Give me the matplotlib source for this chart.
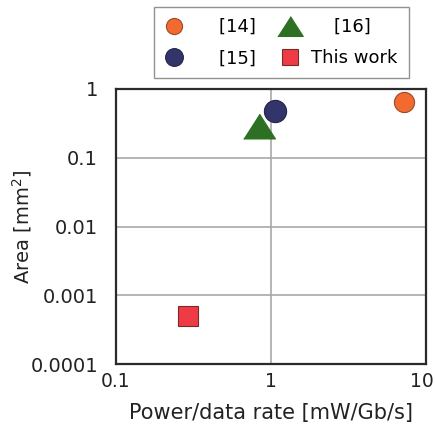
import matplotlib
matplotlib.use("Agg")
import matplotlib.pyplot as plt
import matplotlib.transforms as mtransforms
from matplotlib.ticker import NullLocator, FixedLocator, FixedFormatter

# Data
labels = ["[14]", "[15]", "[16]", "This work"]
power = [7.2, 1.06, 0.84, 0.29]      # mW/Gb/s
area = [0.65, 0.48, 0.29, 0.0005]    # mm^2
colors = ["#F26A30", "#33356A", "#2E7023", "#EE3B45"]
edges = ["#9A4A25", "#22244A", "#2E7023", "#7A2A2A"]

xticks = [0.1, 1, 10]
xticklabels = ["0.1", "1", "10"]
yticks = [0.0001, 0.001, 0.01, 0.1, 1]
yticklabels = ["0.0001", "0.001", "0.01", "0.1", "1"]

plt.rcParams["font.family"] = ["DejaVu Sans"]

W, H = 436, 425
fig = plt.figure(figsize=(W / 100, H / 100), dpi=100)
ax = fig.add_axes([116 / W, 1 - 364 / H, (426 - 116) / W, (364 - 89) / H])

tri = [(-1, -0.78), (1, -0.78), (0, 0.78)]
markers = ["o", "o", tri, "s"]
msizes = [14.5, 16, 23, 14.5]

handles = []
for x, y, lab, c, ec, m, ms in zip(power, area, labels, colors, edges, markers, msizes):
    h, = ax.plot([x], [y], linestyle="none", marker=m, markersize=ms,
                 markerfacecolor=c, markeredgecolor=ec, markeredgewidth=0.8,
                 label=lab, zorder=3)
    handles.append(h)

ax.set_xscale("log")
ax.set_yscale("log")
ax.set_xlim(0.1, 10)
ax.set_ylim(0.0001, 1)

ax.xaxis.set_major_locator(FixedLocator(xticks))
ax.xaxis.set_major_formatter(FixedFormatter(xticklabels))
ax.yaxis.set_major_locator(FixedLocator(yticks))
ax.yaxis.set_major_formatter(FixedFormatter(yticklabels))
ax.xaxis.set_minor_locator(NullLocator())
ax.yaxis.set_minor_locator(NullLocator())

ax.grid(True, which="major", color="#A8A8A8", linewidth=1.2, zorder=0)
ax.set_axisbelow(True)
ax.tick_params(axis="both", length=0, labelsize=14, colors="#222222")
ax.tick_params(axis="x", pad=6, labelsize=13.5)
ax.tick_params(axis="y", pad=13)

for s in ax.spines.values():
    s.set_color("#2A2A2A")
    s.set_linewidth(1.6)

# nudge the last x tick label inward so it stays within the figure
fig.canvas.draw()
last = ax.get_xticklabels()[-1]
last.set_transform(last.get_transform() +
                   mtransforms.ScaledTranslation(-4 / 100, 0, fig.dpi_scale_trans))

ax.set_xlabel("Power/data rate [mW/Gb/s]", fontsize=15, color="#222222")
ax.set_ylabel("Area [mm$^2$]", fontsize=14, color="#222222")
ax.xaxis.set_label_coords(0.5, (364 - 403) / 275)
ax.yaxis.set_label_coords((34 - 116) / 310, 0.5)

leg_labels = ["    [14]", "    [15]", "    [16]", "This work"]
leg = fig.legend(handles, leg_labels, ncol=2, loc="upper left",
                 bbox_to_anchor=(154 / W, 1 - 7 / H), bbox_transform=fig.transFigure,
                 fontsize=13, frameon=True, fancybox=False, markerscale=0.8,
                 handlelength=1.0, handletextpad=0.7, columnspacing=1.4,
                 borderpad=0.6, labelspacing=0.75, borderaxespad=0)
leg.get_frame().set_edgecolor("#777777")
leg.get_frame().set_linewidth(1.0)

fig.savefig("out.png", dpi=100)
